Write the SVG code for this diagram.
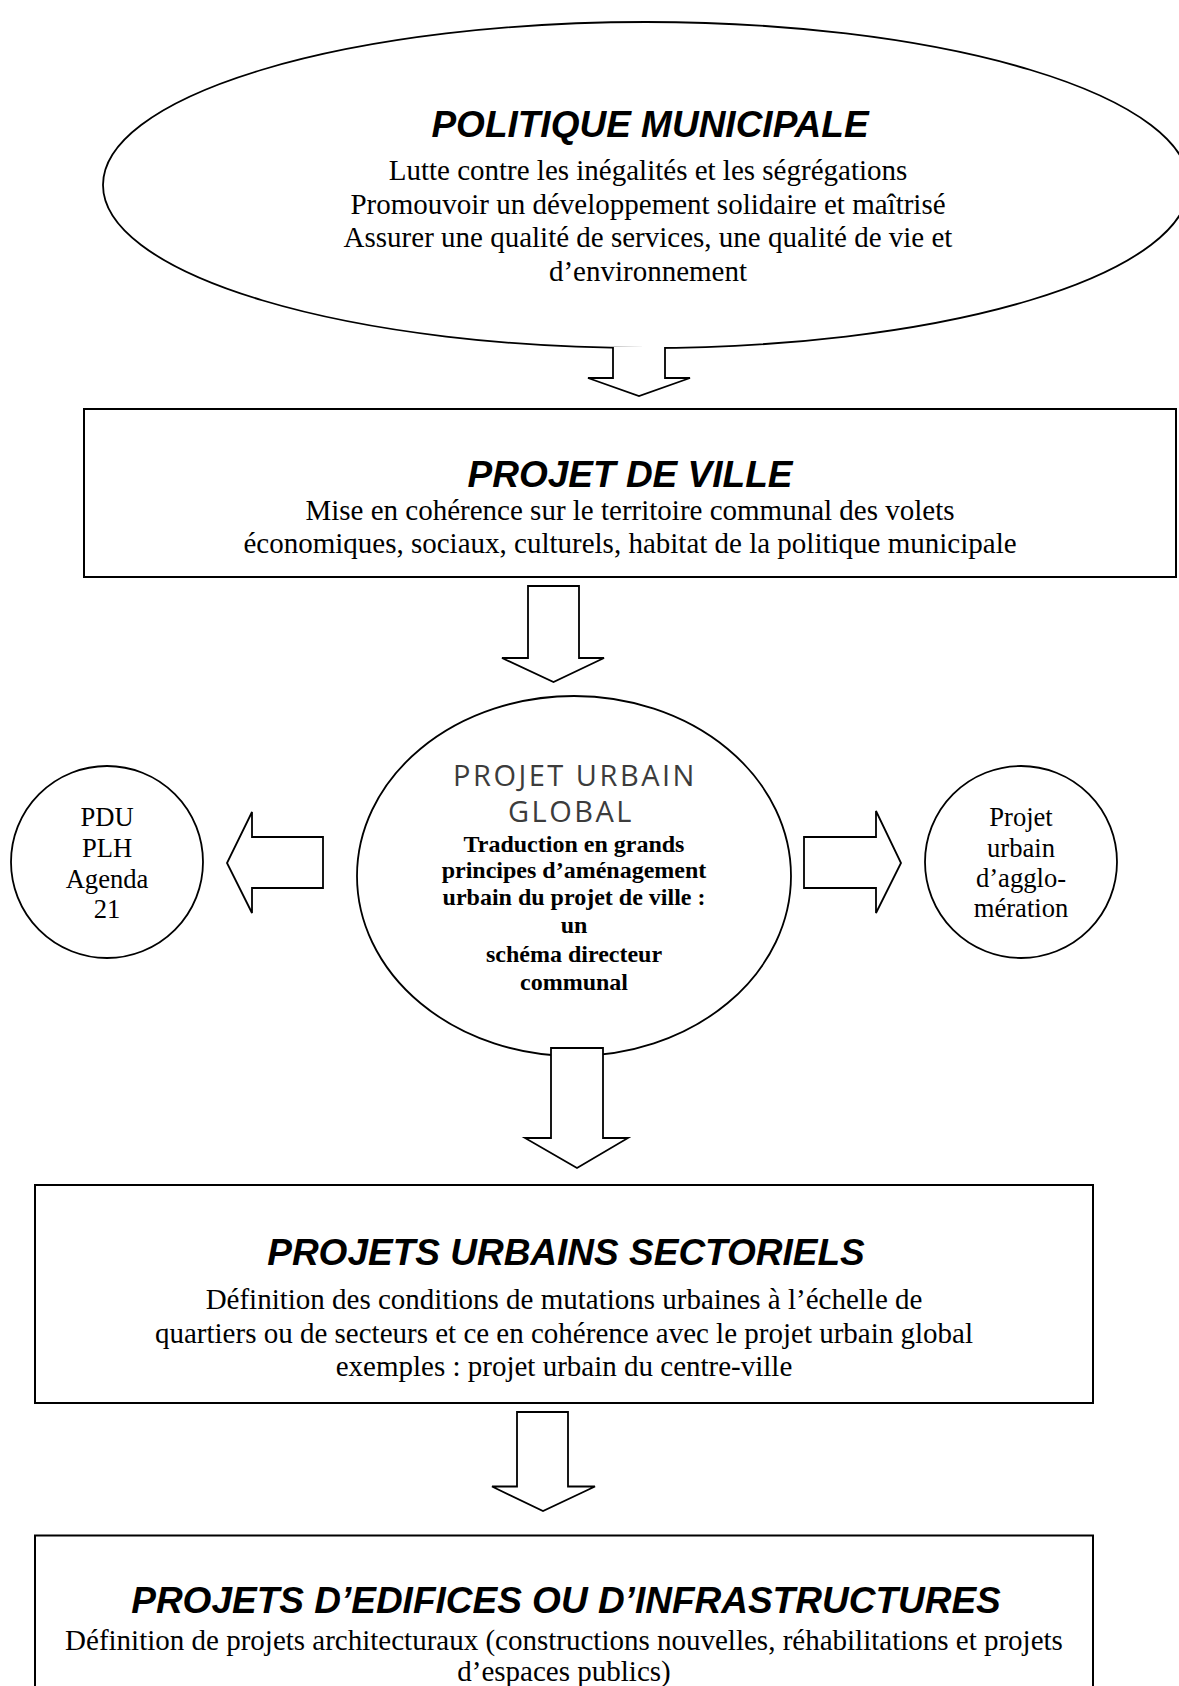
<svg xmlns="http://www.w3.org/2000/svg" width="1179" height="1686" viewBox="0 0 1179 1686">
<style>
.shape{fill:#fff;stroke:#000;stroke-width:1.8}
.box{fill:#fff;stroke:#000;stroke-width:2}
.arrow{fill:#fff;stroke:#000;stroke-width:1.8;stroke-linejoin:miter}
.title{font-family:"Liberation Sans",Arial,sans-serif;font-weight:bold;font-style:italic;font-size:37px;text-anchor:middle;fill:#000}
.body{font-family:"Liberation Serif","Times New Roman",serif;font-size:29px;text-anchor:middle;fill:#000}
.small{font-family:"Liberation Serif","Times New Roman",serif;font-size:26.6px;text-anchor:middle;fill:#000}
.bold{font-family:"Liberation Serif","Times New Roman",serif;font-weight:bold;font-size:24px;text-anchor:middle;fill:#000}
.sans{font-family:"Open Sans","DejaVu Sans",sans-serif;font-size:29px;letter-spacing:2.5px;text-anchor:middle;fill:#3c3c3c}
</style>
<rect width="1179" height="1686" fill="#fff"/>

<g id="politique-municipale">
<ellipse class="shape" cx="646" cy="185" rx="543" ry="163"/>
<text class="title" x="650" y="137">POLITIQUE MUNICIPALE</text>
<text class="body" x="648" y="180">Lutte contre les inégalités et les ségrégations</text>
<text class="body" x="648" y="213.5">Promouvoir un développement solidaire et maîtrisé</text>
<text class="body" x="648" y="247">Assurer une qualité de services, une qualité de vie et</text>
<text class="body" x="648" y="280.5">d’environnement</text>
</g>

<g id="projet-de-ville">
<rect class="box" x="84" y="409" width="1092" height="168"/>
<text class="title" x="630" y="487">PROJET DE VILLE</text>
<text class="body" x="630" y="520">Mise en cohérence sur le territoire communal des volets</text>
<text class="body" x="630" y="553">économiques, sociaux, culturels, habitat de la politique municipale</text>
</g>

<g id="projet-urbain-global">
<ellipse class="shape" cx="574" cy="876" rx="217" ry="180"/>
<text class="sans" x="575" y="786">PROJET URBAIN</text>
<text class="sans" x="571" y="822">GLOBAL</text>
<text class="bold" x="574" y="852">Traduction en grands</text>
<text class="bold" x="574" y="878">principes d’aménagement</text>
<text class="bold" x="574" y="905">urbain du projet de ville :</text>
<text class="bold" x="574" y="933">un</text>
<text class="bold" x="574" y="962">schéma directeur</text>
<text class="bold" x="574" y="990">communal</text>
</g>

<g id="pdu-plh-agenda21">
<circle class="shape" cx="107" cy="862" r="96"/>
<text class="small" x="107" y="826">PDU</text>
<text class="small" x="107" y="857">PLH</text>
<text class="small" x="107" y="888">Agenda</text>
<text class="small" x="107" y="918">21</text>
</g>

<g id="projet-agglomeration">
<circle class="shape" cx="1021" cy="862" r="96"/>
<text class="small" x="1021" y="826">Projet</text>
<text class="small" x="1021" y="857">urbain</text>
<text class="small" x="1021" y="887">d’agglo-</text>
<text class="small" x="1021" y="917">mération</text>
</g>

<g id="projets-urbains-sectoriels">
<rect class="box" x="35" y="1185" width="1058" height="218"/>
<text class="title" x="566" y="1264.5">PROJETS URBAINS SECTORIELS</text>
<text class="body" x="564" y="1308.5">Définition des conditions de mutations urbaines à l’échelle de</text>
<text class="body" x="564" y="1342.5">quartiers ou de secteurs et ce en cohérence avec le projet urbain global</text>
<text class="body" x="564" y="1376">exemples : projet urbain du centre-ville</text>
</g>

<g id="projets-edifices-infrastructures">
<rect class="box" x="35" y="1535.5" width="1058" height="170"/>
<text class="title" x="566" y="1613">PROJETS D’EDIFICES OU D’INFRASTRUCTURES</text>
<text class="body" x="564" y="1650">Définition de projets architecturaux (constructions nouvelles, réhabilitations et projets</text>
<text class="body" x="564" y="1681">d’espaces publics)</text>
</g>

<g id="connectors">
<path class="arrow" d="M613,347 L613,378 L588,378 L639,396 L690,378 L665,378 L665,347"/>
<polygon class="arrow" points="528,586 579,586 579,658 604,658 553.5,682 502,658 528,658"/>
<polygon class="arrow" points="323,837 323,888 252,888 252,913 227,863 252,812 252,837"/>
<polygon class="arrow" points="804,837 804,888 876,888 876,913 901,863 876,811 876,837"/>
<polygon class="arrow" points="551,1048 603,1048 603,1138 628,1138 577,1168 525,1138 551,1138"/>
<polygon class="arrow" points="517,1412 568,1412 568,1486.5 595,1486.5 543,1511 492,1486.5 517,1486.5"/>
</g>
</svg>
